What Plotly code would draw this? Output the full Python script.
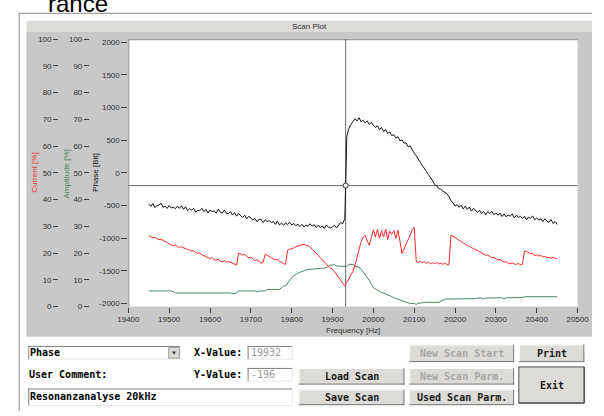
import plotly.graph_objects as go

# ---------------- data ----------------
frequency = list(range(19450, 20451, 5))  # scan grid [Hz]

phase = [
    -480, -515, -470, -535, -500, -495, -465, -530, -510, -545,
    -500, -540, -525, -550, -510, -545, -505, -560, -520, -580,
    -550, -570, -545, -605, -570, -580, -545, -595, -560, -615,
    -570, -595, -580, -620, -555, -600, -615, -570, -620, -625,
    -595, -645, -610, -665, -625, -655, -685, -650, -705, -665,
    -695, -725, -700, -750, -710, -715, -765, -720, -745, -735,
    -760, -745, -790, -740, -800, -770, -805, -765, -795, -755,
    -800, -775, -810, -785, -825, -790, -830, -800, -820, -780,
    -815, -795, -840, -800, -840, -815, -855, -800, -835, -845,
    -825, -805, -845, -810, -760, -780, -700, 560, 680, 740,
    780, 830, 795, 845, 780, 805, 765, 795, 740, 775,
    730, 695, 720, 660, 695, 635, 660, 605, 625, 570,
    585, 530, 555, 490, 505, 455, 460, 400, 415, 350,
    300, 260, 200, 160, 110, 70, 20, -30, -70, -120,
    -180, -200, -240, -250, -280, -300, -320, -360, -430, -460,
    -510, -485, -530, -495, -555, -510, -560, -525, -585, -545,
    -570, -610, -575, -625, -590, -645, -595, -625, -590, -640,
    -615, -650, -615, -670, -630, -675, -645, -665, -630, -690,
    -650, -685, -665, -700, -665, -720, -680, -700, -660, -720,
    -690, -725, -705, -745, -705, -740, -760, -715, -775, -745, -790,
]

current = [
    26.5, 26.2, 25.8, 25.9, 25.3, 25.0, 25.2, 24.6, 24.3, 24.0,
    23.4, 23.0, 22.8, 23.0, 22.4, 22.2, 22.3, 21.9, 21.6, 21.4,
    21.1, 20.8, 20.9, 20.2, 19.9, 20.0, 19.4, 19.1, 18.7, 18.5,
    18.0, 18.3, 17.6, 17.4, 17.7, 17.0, 16.8, 17.1, 16.6, 16.9,
    16.5, 16.2, 15.8, 15.5, 20.0, 19.6, 19.3, 19.5, 18.8, 18.2,
    18.5, 17.8, 17.2, 17.5, 16.8, 16.2, 16.5, 19.6, 19.2, 18.6,
    18.2, 17.8, 17.5, 17.8, 16.9, 16.6, 16.0, 15.8, 21.1, 21.4,
    21.6, 21.9, 22.4, 22.7, 22.9, 23.1, 23.2, 23.0, 22.7, 22.2,
    21.5, 20.8, 20.0, 19.2, 18.3, 17.4, 16.5, 15.7, 15.0, 14.5,
    14.0, 13.0, 12.0, 10.9, 9.8, 8.7, 7.7, 9.0, 10.5, 12.0,
    13.2, 15.5, 18.5, 21.5, 24.3, 26.0, 26.6, 24.5, 23.0, 25.8,
    28.7, 26.0, 28.9, 25.5, 28.4, 26.2, 29.0, 25.0, 28.2, 27.0,
    28.4, 25.5, 28.6, 24.5, 19.8, 21.5, 23.3, 25.2, 27.0, 28.5,
    29.6, 16.8, 16.5, 16.9, 16.4, 16.7, 16.2, 16.6, 16.0, 16.4,
    16.1, 16.5, 15.9, 16.3, 15.8, 16.2, 15.7, 15.6, 26.8, 26.3,
    25.9, 25.2, 24.9, 24.2, 23.7, 23.5, 22.8, 22.6, 22.0, 21.6,
    21.4, 21.0, 20.4, 20.1, 19.6, 19.2, 19.3, 18.6, 18.2, 18.4,
    17.8, 17.4, 17.6, 17.0, 16.6, 16.8, 16.2, 16.0, 16.3, 15.9,
    15.8, 16.1, 15.7, 15.8, 20.8, 20.6, 20.2, 19.8, 19.9, 19.0,
    19.3, 18.9, 19.1, 18.6, 18.8, 18.3, 18.5, 18.1, 18.4, 18.0, 18.0,
]

amplitude = [
    5.85, 5.85, 5.85, 5.85, 5.85, 5.85, 5.85, 5.85, 5.85, 5.85,
    5.85, 5.85, 5.5, 5.1, 5.1, 5.1, 5.1, 5.1, 5.1, 5.1,
    5.1, 5.1, 5.1, 5.1, 5.1, 5.1, 5.1, 5.1, 5.1, 5.1,
    5.1, 5.1, 5.1, 5.1, 5.1, 5.1, 5.1, 5.1, 5.1, 5.1,
    5.1, 4.8, 5.1, 5.1, 5.85, 5.85, 5.85, 5.85, 5.85, 5.85,
    5.85, 5.85, 5.85, 5.5, 5.85, 5.85, 5.85, 5.85, 6.4, 6.4,
    6.4, 6.4, 6.4, 6.4, 6.4, 7.0, 7.7, 7.7, 8.8, 10.1,
    10.8, 11.4, 12.0, 12.5, 12.8, 13.2, 13.4, 13.7, 13.9, 14.0,
    14.1, 14.1, 14.2, 14.2, 14.3, 14.3, 14.4, 14.6, 15.2, 15.6,
    15.6, 15.6, 15.2, 15.2, 15.0, 15.0, 15.0, 15.0, 15.8, 15.8,
    15.8, 15.2, 15.0, 14.6, 14.0, 13.0, 11.9, 10.8, 9.8, 8.4,
    7.1, 6.5, 6.0, 5.6, 5.3, 5.1, 4.8, 4.5, 4.1, 3.7,
    3.3, 3.0, 2.7, 2.4, 2.1, 1.8, 1.6, 1.4, 1.2, 1.2,
    1.2, 0.8, 1.3, 1.3, 1.6, 1.6, 1.6, 1.6, 1.6, 1.6,
    1.6, 1.6, 1.6, 2.0, 2.4, 2.8, 2.8, 2.8, 2.8, 2.8,
    2.8, 3.0, 3.0, 3.0, 3.0, 3.0, 3.0, 3.0, 3.0, 3.0,
    3.0, 3.2, 3.2, 3.2, 2.8, 3.2, 3.2, 3.2, 3.2, 3.3,
    3.3, 3.3, 3.3, 3.3, 2.9, 3.3, 3.3, 3.3, 3.4, 3.4,
    3.4, 3.4, 3.4, 3.4, 3.7, 3.7, 3.7, 3.7, 3.7, 3.7,
    3.7, 3.7, 3.7, 3.7, 3.7, 3.7, 3.7, 3.7, 3.7, 3.7, 3.7,
]

cursor_x = 19932
cursor_y = -196

x_ticks = [19400, 19500, 19600, 19700, 19800, 19900, 20000, 20100, 20200, 20300, 20400, 20500]
x_tick_labels = ["19400", "19500", "19600", "19700", "19800", "19900",
                 "20000", "20100", "20200", "20300", "20400", "20500"]
phase_ticks = [-2000, -1500, -1000, -500, 0, 500, 1000, 1500, 2000]
phase_tick_labels = ["-2000", "-1500", "-1000", "-500", "0", "500", "1000", "1500", "2000"]
pct_ticks = [0, 10, 20, 30, 40, 50, 60, 70, 80, 90, 100]

# ---------------- layout helpers ----------------
W, H = 604, 416
def px(x):
    return x / W
def py(y):
    return 1 - y / H

FONT = "Liberation Sans, Arial, sans-serif"
MONO = "DejaVu Sans Mono, monospace"
PANEL = "#c8c8c8"
BAR = "#dcdcd8"
BTN = "#dcdbd7"
TXT = "#303030"

shapes = []
annots = []

def rect(x0, y0, x1, y1, fill, line=None, lw=1):
    shapes.append(dict(type="rect", xref="paper", yref="paper",
                       x0=px(x0), x1=px(x1), y0=py(y1), y1=py(y0),
                       fillcolor=fill, layer="below",
                       line=dict(color=line if line else fill, width=lw if line else 0)))

def seg(x0, y0, x1, y1, color, lw=1):
    shapes.append(dict(type="line", xref="paper", yref="paper",
                       x0=px(x0), x1=px(x1), y0=py(y0), y1=py(y1), layer="below",
                       line=dict(color=color, width=lw)))

def text(x, y, s, size=8, color="#000000", family=FONT, anchor="left", bold=False, angle=0):
    annots.append(dict(xref="paper", yref="paper", x=px(x), y=py(y), text=s, showarrow=False,
                       xanchor=anchor, yanchor="middle", textangle=angle, borderpad=0, borderwidth=0,
                       font=dict(size=size, color=color, family=family, weight="bold" if bold else "normal")))

def button(x0, y0, x1, y1, label, enabled=True, default=False):
    rect(x0, y0, x1, y1, BTN)
    seg(x0, y0 + 0.5, x1, y0 + 0.5, "#ffffff")
    seg(x0 + 0.5, y0, x0 + 0.5, y1, "#ffffff")
    seg(x0, y1 - 0.5, x1, y1 - 0.5, "#7a7a7a")
    seg(x1 - 0.5, y0, x1 - 0.5, y1, "#7a7a7a")
    if default:
        rect(x0, y0, x1, y1, "rgba(0,0,0,0)", "#3a3a3a", 1)
    text((x0 + x1) / 2, (y0 + y1) / 2, label, size=10, family=MONO, anchor="center", bold=True,
         color="#1a1a1a" if enabled else "#a8a8a8")

def field(x0, y0, x1, y1):
    rect(x0, y0, x1, y1, "#ffffff")
    seg(x0, y0 + 0.5, x1, y0 + 0.5, "#808080")
    seg(x0 + 0.5, y0, x0 + 0.5, y1, "#808080")
    seg(x0, y1 - 0.5, x1, y1 - 0.5, "#e8e8e8")
    seg(x1 - 0.5, y0, x1 - 0.5, y1, "#e8e8e8")

# window frame
seg(8, 9.5, 604, 9.5, "#8c8c8c")
seg(8.5, 9.5, 8.5, 416, "#8c8c8c")
# panel + title bar
rect(16, 17, 604, 28, BAR)
rect(16, 28, 604, 340, PANEL)
# plot area
rect(122, 36, 589, 309.3, "#ffffff")
seg(122, 36.5, 589, 36.5, "#8a8a8a")
seg(122.5, 36, 122.5, 309.3, "#8a8a8a")

# crosshair (data referenced)
shapes.append(dict(type="line", xref="x", yref="y domain", x0=cursor_x, x1=cursor_x, y0=0, y1=1,
                   line=dict(color="#6a6a6a", width=1), layer="below"))
shapes.append(dict(type="line", xref="x domain", yref="y", x0=0, x1=1, y0=cursor_y, y1=cursor_y,
                   line=dict(color="#6a6a6a", width=1), layer="below"))

# titles
text(310, 22.5, "Scan Plot", size=8, color=TXT, anchor="center")
text(355.5, 334, "Frequency [Hz]", size=8, color=TXT, anchor="center")
text(25, 172.5, "Current [%]", size=8, color="#e83c3c", anchor="center", angle=-90)
text(57.5, 174, "Amplitude [%]", size=8, color="#4b8661", anchor="center", angle=-90)
text(88.5, 172.5, "Phase [Bit]", size=8, color="#202020", anchor="center", angle=-90)

# clipped heading above the window
annots.append(dict(xref="paper", yref="paper", x=px(37), y=py(14), text="rance", showarrow=False,
                   xanchor="left", yanchor="bottom", borderpad=0,
                   font=dict(size=24, color="#000000", family=FONT)))

# widgets
field(18, 349.5, 176, 363.5)
rect(164, 351, 175, 362, BTN, "#9a9a9a", 1)
text(169.5, 356.5, "▼", size=6, color="#333333", anchor="center")
text(20, 356.5, "Phase", size=10, family=MONO, bold=True)
text(190, 356.5, "X-Value:", size=10, family=MONO, bold=True)
text(190, 379, "Y-Value:", size=10, family=MONO, bold=True)
field(246, 349.5, 293, 363.5)
text(249, 356.5, str(cursor_x), size=10, family=MONO, color="#9a9a9a")
field(246, 372, 293, 386)
text(249, 379, str(cursor_y), size=10, family=MONO, color="#9a9a9a")
text(19, 379, "User Comment:", size=10, family=MONO, bold=True)
field(18, 393, 293, 411)
text(20, 401.5, "Resonanzanalyse 20kHz", size=10, family=MONO, bold=True)

button(414, 348, 523, 366, "New Scan Start", enabled=False)
button(528, 348, 596, 366, "Print")
button(299, 372, 409, 389, "Load Scan")
button(414, 372, 523, 389, "New Scan Parm.", enabled=False)
button(528, 371, 596, 408, "Exit", default=True)
button(299, 394, 409, 410, "Save Scan")
button(414, 394, 523, 410, "Used Scan Parm.")

# ---------------- figure ----------------
fig = go.Figure()
fig.add_trace(go.Scatter(x=frequency, y=phase, mode="lines", yaxis="y",
                         line=dict(color="#111111", width=1), hoverinfo="skip"))
fig.add_trace(go.Scatter(x=frequency, y=amplitude, mode="lines", yaxis="y2",
                         line=dict(color="#4b8661", width=1), hoverinfo="skip"))
fig.add_trace(go.Scatter(x=frequency, y=current, mode="lines", yaxis="y3",
                         line=dict(color="#ff2a2a", width=1), hoverinfo="skip"))
fig.add_trace(go.Scatter(x=[cursor_x], y=[cursor_y], mode="markers", yaxis="y",
                         marker=dict(symbol="circle", size=5, color="#ffffff",
                                     line=dict(color="#333333", width=1)), hoverinfo="skip"))

dom_y = [py(309.3), py(35.8)]
tickfont = dict(size=8, color=TXT, family=FONT)
common_y = dict(ticks="outside", tickcolor="#404040", tickfont=tickfont, showgrid=False,
                zeroline=False, showline=False)

fig.update_layout(
    width=W, height=H, margin=dict(l=0, r=0, t=0, b=0),
    paper_bgcolor="#ffffff", plot_bgcolor="rgba(0,0,0,0)", showlegend=False,
    xaxis=dict(domain=[px(122), px(589)], range=[19400, 20500], tickvals=x_ticks,
               ticktext=x_tick_labels,
               ticks="outside", ticklen=5, tickcolor="#404040", tickfont=tickfont,
               showgrid=False, zeroline=False, showline=False, anchor="y"),
    yaxis=dict(domain=dom_y, range=[-2050, 2050], tickvals=phase_ticks, ticktext=phase_tick_labels,
               ticklen=6, anchor="x", **common_y),
    yaxis2=dict(domain=dom_y, range=[0, 100], tickvals=pct_ticks, overlaying="y", anchor="free",
                position=px(81), side="left", ticklen=5, **common_y),
    yaxis3=dict(domain=dom_y, range=[0, 100], tickvals=pct_ticks, overlaying="y", anchor="free",
                position=px(49), side="left", ticklen=5, **common_y),
    shapes=shapes, annotations=annots,
)

fig.write_html(
    "out.html",
    config={"displayModeBar": False, "staticPlot": True},
    post_script="document.body.style.margin='0';",
)
